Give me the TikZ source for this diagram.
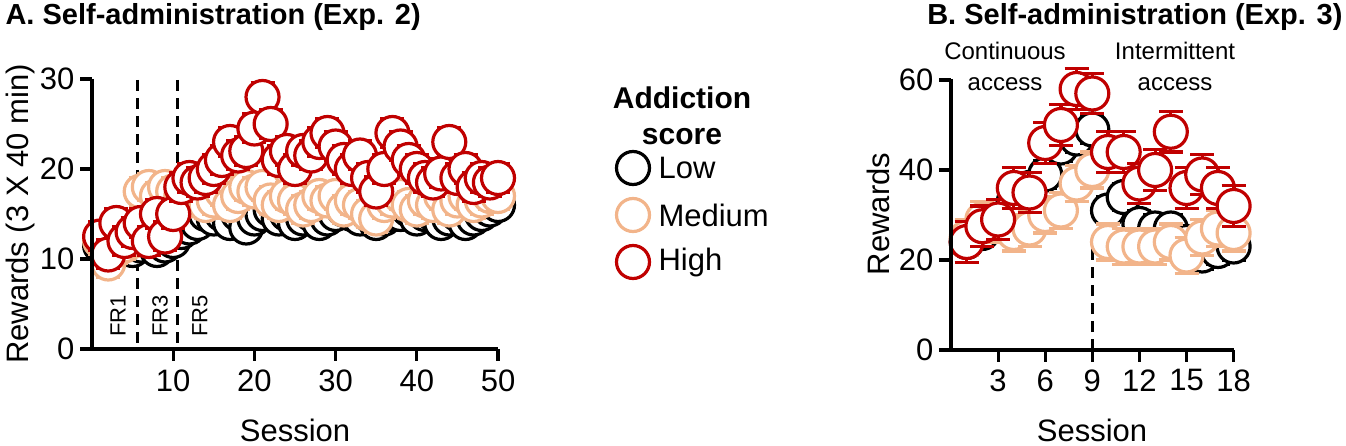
\documentclass[tikz,border=0pt]{standalone}
\usepackage{fontspec}
\setmainfont{Liberation Sans}
\begin{document}
\begin{tikzpicture}[x=1pt,y=-1pt,
  ax/.style={line width=3.2pt,black},
  dsh/.style={line width=3pt,dash pattern=on 11pt off 7pt},
  tick/.style={font=\fontsize{31}{33}\selectfont},
  lab/.style={font=\fontsize{31}{33}\selectfont},
  ttl/.style={font=\bfseries\fontsize{29}{31}\selectfont}]
\definecolor{cred}{HTML}{C00000}
\definecolor{cmed}{HTML}{F2B48A}
\useasboundingbox (0,0) rectangle (1346,446);
\newcommand\plotser[7]{%
 \foreach \v [count=\i] in {#7} {
  \pgfmathsetmacro\xx{#3+#4*\i}
  \pgfmathsetmacro\yy{#5-#6*\v}
  \pgfmathsetmacro\ye{#5-#6*(\v+#2)}
  \pgfmathsetmacro\yl{#5-#6*(\v-#2)}
  \draw[#1,line width=3.2pt] (\xx,\ye) -- (\xx,\yl) (\xx-12,\ye) -- (\xx+12,\ye) (\xx-12,\yl) -- (\xx+12,\yl);
  \draw[#1,line width=3.2pt,fill=white] (\xx,\yy) circle (16.5);
 }}
% ---------- Panel A ----------
\node[ttl,anchor=west] (ta) at (2,17) {A. Self-administration (Exp. 2)};
\draw[dsh] (137,80) -- (137,349);
\draw[dsh] (177,80) -- (177,349);
\foreach \t/\xp in {FR1/118,FR3/160,FR5/200}
  \node[rotate=90,font=\fontsize{22}{24}\selectfont] at (\xp,316) {\t};
\plotser{black}{0.8}{92}{8.12}{349}{9}{11.5,11,11.5,12,11,11.5,12,11,11.5,12,13,13.5,14,15,14.5,15,14,15,13.5,14.5,15,15.5,14.5,15,14,14.5,15,14,14.5,15,15.5,15,14.5,15,14,14.5,15,15,15.5,14.5,15,15,14,14.5,15,14,14.5,15,15.5,16}
\plotser{cmed}{1.5}{92}{8.12}{349}{9}{12,9.5,11,11.5,12,17.5,18,17,18,17.5,17,16.5,17,16,16.5,17.5,16,17,18,17.5,18,16.5,16,17,16.5,15.5,16,17,16.5,17,15.5,16.5,16,15,14.5,16,16.5,17,16,15.5,16.5,16,17,15.5,16.5,17,16,16.5,17,17}
\plotser{cred}{1.6}{92}{8.12}{349}{9}{12.5,10.5,14,12,13,14,12,15,12.5,15,18,19,18.5,19,20,21,23,21.5,22,24.5,28,25,21,22,20,22,21.5,23,24,22.5,21,20,21.5,19,17.5,20,24,22.5,21,20,19,18.5,19.5,23,19,20,18,19,18.5,19}
\draw[ax] (92,79) -- (92,349) -- (498,349);
\foreach \v/\yy in {0/349,10/259,20/169,30/79} {
  \draw[ax] (80,\yy) -- (92,\yy);
  \node[tick,anchor=east] at (78,\yy) {\v};}
\foreach \v in {10,20,30,40,50} {
  \pgfmathsetmacro\xx{92+8.12*\v}
  \draw[ax] (\xx,349) -- (\xx,361);
  \node[tick,anchor=north] at (\xx,366) {\v};}
\node[lab,rotate=90] (ya) at (20,214) {Rewards (3 X 40 min)};
\node[lab] (xa) at (295,430) {Session};
% ---------- Legend ----------
\node[font=\bfseries\fontsize{30}{36}\selectfont,align=center] (lt) at (682,116) {Addiction\\score};
\foreach \c/\t/\yy in {black/Low/168,cmed/Medium/215,cred/High/262} {
  \draw[\c,line width=3.2pt,fill=white] (633,\yy) circle (16.5);
  \node[lab,anchor=west] at (655,\yy) {\t};}
% ---------- Panel B ----------
\node[ttl,anchor=east] (tb) at (1346,17) {B. Self-administration (Exp. 3)};
\node[font=\fontsize{24}{31}\selectfont,align=center] (ca) at (1005,66) {Continuous\\access};
\node[font=\fontsize{24}{31}\selectfont,align=center] (ia) at (1175,66) {Intermittent\\access};
\draw[dsh] (1092,350) -- (1092,235);
\plotser{black}{3}{951}{15.7}{350}{4.5}{24,26,28,33,36,39,45,47,49,31,34,28,27,27,24,21,22,23}
\plotser{cmed}{4}{951}{15.7}{350}{4.5}{25,29,28,26,27,30,31,37,40,24,23,23,23,24,21,25,27,26}
\plotser{cred}{4.5}{951}{15.7}{350}{4.5}{24,27.5,29,36,35,46,50,58,57,44,44,37,40,48.5,36,39,36,32}
\draw[ax] (951,79) -- (951,350) -- (1234,350);
\foreach \v/\yy in {0/350,20/260,40/170,60/80} {
  \draw[ax] (939,\yy) -- (951,\yy);
  \node[tick,anchor=east] at (937,\yy) {\v};}
\foreach \v in {3,6,9,12,15,18} {
  \pgfmathsetmacro\xx{951+15.7*\v}
  \draw[ax] (\xx,350) -- (\xx,362);
  \node[tick,anchor=north] at (\xx,366) {\v};}
\node[lab,rotate=90] (yb) at (878,214) {Rewards};
\node[lab] (xb) at (1092,430) {Session};
\end{tikzpicture}
\end{document}
